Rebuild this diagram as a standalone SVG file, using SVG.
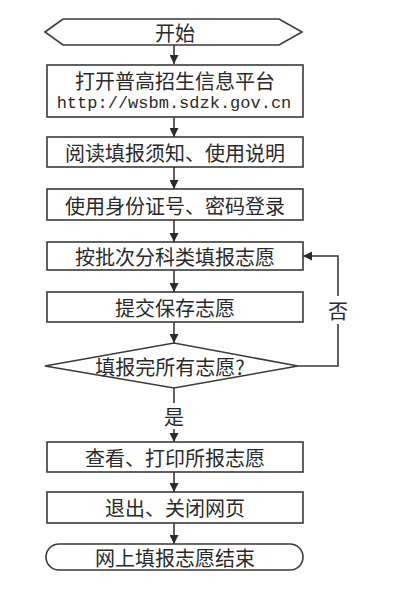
<svg xmlns="http://www.w3.org/2000/svg" width="400" height="592" viewBox="0 0 400 592">
  <defs>
    <marker id="arrow" viewBox="0 0 10 10" refX="10" refY="5" markerWidth="9" markerHeight="9" markerUnits="userSpaceOnUse" orient="auto">
      <path d="M0,0 L10,5 L0,10 Z" fill="#2b2b2b"/>
    </marker>
    <style>
      .shape { fill: #ffffff; stroke: #3a3a3a; stroke-width: 1.6; }
      .conn { fill: none; stroke: #3a3a3a; stroke-width: 1.6; }
      .t { font-family: "Noto Sans CJK SC", "Noto Sans", sans-serif; font-size: 20px; fill: #2a2a2a; text-anchor: middle; dominant-baseline: central; }
      .mono { font-family: "Liberation Mono", "DejaVu Sans Mono", monospace; font-size: 17px; fill: #2a2a2a; text-anchor: middle; dominant-baseline: central; }
    </style>
  </defs>
  <rect x="0" y="0" width="400" height="592" fill="#ffffff"/>

  <g id="connectors">
    <path class="conn" d="M174,45 V64" marker-end="url(#arrow)"/>
    <path class="conn" d="M174,117 V137" marker-end="url(#arrow)"/>
    <path class="conn" d="M174,167 V189" marker-end="url(#arrow)"/>
    <path class="conn" d="M174,220 V242" marker-end="url(#arrow)"/>
    <path class="conn" d="M174,270 V292" marker-end="url(#arrow)"/>
    <path class="conn" d="M174,322 V343" marker-end="url(#arrow)"/>
    <path class="conn" d="M174,388 V403"/>
    <path class="conn" d="M174,429 V442" marker-end="url(#arrow)"/>
    <path class="conn" d="M298,366 H338 V324"/>
    <path class="conn" d="M338,296 V256 H303" marker-end="url(#arrow)"/>
    <path class="conn" d="M174,472 V492" marker-end="url(#arrow)"/>
    <path class="conn" d="M174,523 V544" marker-end="url(#arrow)"/>
    <text class="t" x="174" y="416">是</text>
    <text class="t" x="338" y="310">否</text>
  </g>

  <g id="start">
    <polygon class="shape" points="45,32 63,19 279,19 302,32 279,45 63,45"/>
    <text class="t" x="175" y="32">开始</text>
  </g>

  <g id="open-platform">
    <rect class="shape" x="47" y="65" width="256" height="52"/>
    <text class="t" x="175" y="80">打开普高招生信息平台</text>
    <text class="mono" x="174" y="103">http://wsbm.sdzk.gov.cn</text>
  </g>

  <g id="read-notes">
    <rect class="shape" x="47" y="137" width="256" height="30"/>
    <text class="t" x="175" y="152">阅读填报须知、使用说明</text>
  </g>

  <g id="login">
    <rect class="shape" x="47" y="189" width="256" height="31"/>
    <text class="t" x="175" y="205">使用身份证号、密码登录</text>
  </g>

  <g id="fill-in">
    <rect class="shape" x="47" y="242" width="256" height="28"/>
    <text class="t" x="175" y="256">按批次分科类填报志愿</text>
  </g>

  <g id="submit">
    <rect class="shape" x="47" y="292" width="256" height="30"/>
    <text class="t" x="175" y="307">提交保存志愿</text>
  </g>

  <g id="decision">
    <polygon class="shape" points="45,366 174,343 298,366 174,388"/>
    <text class="t" x="170" y="366">填报完所有志愿?</text>
  </g>

  <g id="view-print">
    <rect class="shape" x="47" y="442" width="256" height="30"/>
    <text class="t" x="175" y="457">查看、打印所报志愿</text>
  </g>

  <g id="exit">
    <rect class="shape" x="47" y="492" width="256" height="31"/>
    <text class="t" x="175" y="507">退出、关闭网页</text>
  </g>

  <g id="end">
    <rect class="shape" x="46" y="544" width="257" height="26" rx="13" ry="13"/>
    <text class="t" x="175" y="557">网上填报志愿结束</text>
  </g>
</svg>
